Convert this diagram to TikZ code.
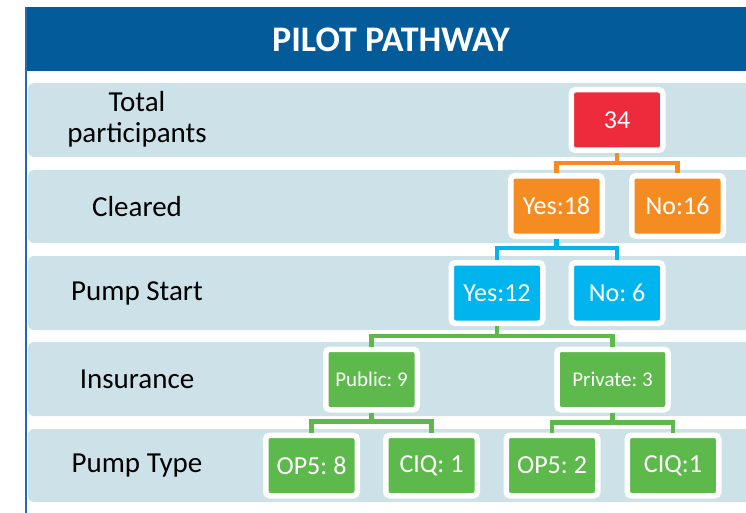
\documentclass[tikz,border=0pt]{standalone}
\usepackage{fontspec}
\setmainfont{Carlito}
\frenchspacing
\usetikzlibrary{positioning}
\definecolor{headblue}{HTML}{035B9A}
\definecolor{frameblue}{HTML}{2468B0}
\definecolor{band}{HTML}{CCE2E8}
\definecolor{cred}{HTML}{EE2B3D}
\definecolor{corange}{HTML}{F58C22}
\definecolor{ccyan}{HTML}{00B5EE}
\definecolor{cgreen}{HTML}{5DB94C}
\tikzset{
  rowband/.style={fill=band, rounded corners=6pt},
  rowlabel/.style={align=center, font=\fontsize{29}{31}\selectfont, text=black},
  databox/.style={draw=white, line width=5.5pt, rounded corners=4pt,
    minimum width=91.5pt, minimum height=60.5pt, inner sep=0pt, text=white,
    font=\fontsize{26}{28}\selectfont},
  smallbox/.style={databox, font=\fontsize{21}{23}\selectfont},
  link/.style={line width=4.5pt}
}
\begin{document}
\begin{tikzpicture}[x=1pt,y=-1pt]
\useasboundingbox (0,0) rectangle (746,513);
\clip (0,0) rectangle (746,513);
% header and frame
\fill[headblue] (25,7) rectangle (760,71);
\node[text=white, font=\fontsize{36}{40}\bfseries\selectfont] (title) at (391,40) {PILOT PATHWAY};
\draw[frameblue, line width=2pt] (25.5,7) -- (25.5,520);
% row bands
\fill[rowband] (28,83) rectangle (770,157);
\fill[rowband] (28,170) rectangle (770,243);
\fill[rowband] (28,256) rectangle (770,330);
\fill[rowband] (28,342) rectangle (770,416);
\fill[rowband] (28,429) rectangle (770,502);
% row labels
\node[rowlabel] (lTotal) at (137,119) {Total\\participants};
\node[rowlabel] (lCleared) at (137,206.5) {Cleared};
\node[rowlabel] (lPump) at (137,293) {Pump Start};
\node[rowlabel] (lIns) at (137,379) {Insurance};
\node[rowlabel] (lType) at (137,465.5) {Pump Type};
% data boxes
\node[databox, fill=cred] (n34) at (617,120) {34};
\node[databox, fill=corange] (yes18) at (556.5,206) {Yes:18};
\node[databox, fill=corange] (no16) at (677.5,206) {No:16};
\node[databox, fill=ccyan] (yes12) at (497,293) {Yes:12};
\node[databox, fill=ccyan] (no6) at (617,293) {No: 6};
\node[smallbox, fill=cgreen] (pub) at (371.5,379.5) {Public: 9};
\node[smallbox, fill=cgreen, minimum width=111pt] (priv) at (612.5,379.5) {Private: 3};
\node[databox, fill=cgreen] (op8) at (311.5,465.5) {OP5: 8};
\node[databox, fill=cgreen] (ciqa) at (431.5,465.5) {CIQ: 1};
\node[databox, fill=cgreen] (op2) at (552,465.5) {OP5: 2};
\node[databox, fill=cgreen] (ciqb) at (673,465.5) {CIQ:1};
% connectors
\draw[link, corange] (n34.south) -- ++(0,10) -| (yes18.north);
\draw[link, corange] (n34.south) -- ++(0,10) -| (no16.north);
\draw[link, ccyan] (yes18.south) -- ++(0,9) -| (yes12.north);
\draw[link, ccyan] (yes18.south) -- ++(0,9) -| (no6.north);
\draw[link, cgreen] (yes12.south) -- ++(0,10) -| (pub.north);
\draw[link, cgreen] (yes12.south) -- ++(0,10) -| (priv.north);
\draw[link, cgreen] (pub.south) -- ++(0,9) -| (op8.north);
\draw[link, cgreen] (pub.south) -- ++(0,9) -| (ciqa.north);
\draw[link, cgreen] (priv.south) -- ++(0,10) -| (op2.north);
\draw[link, cgreen] (priv.south) -- ++(0,10) -| (ciqb.north);
\end{tikzpicture}
\end{document}
